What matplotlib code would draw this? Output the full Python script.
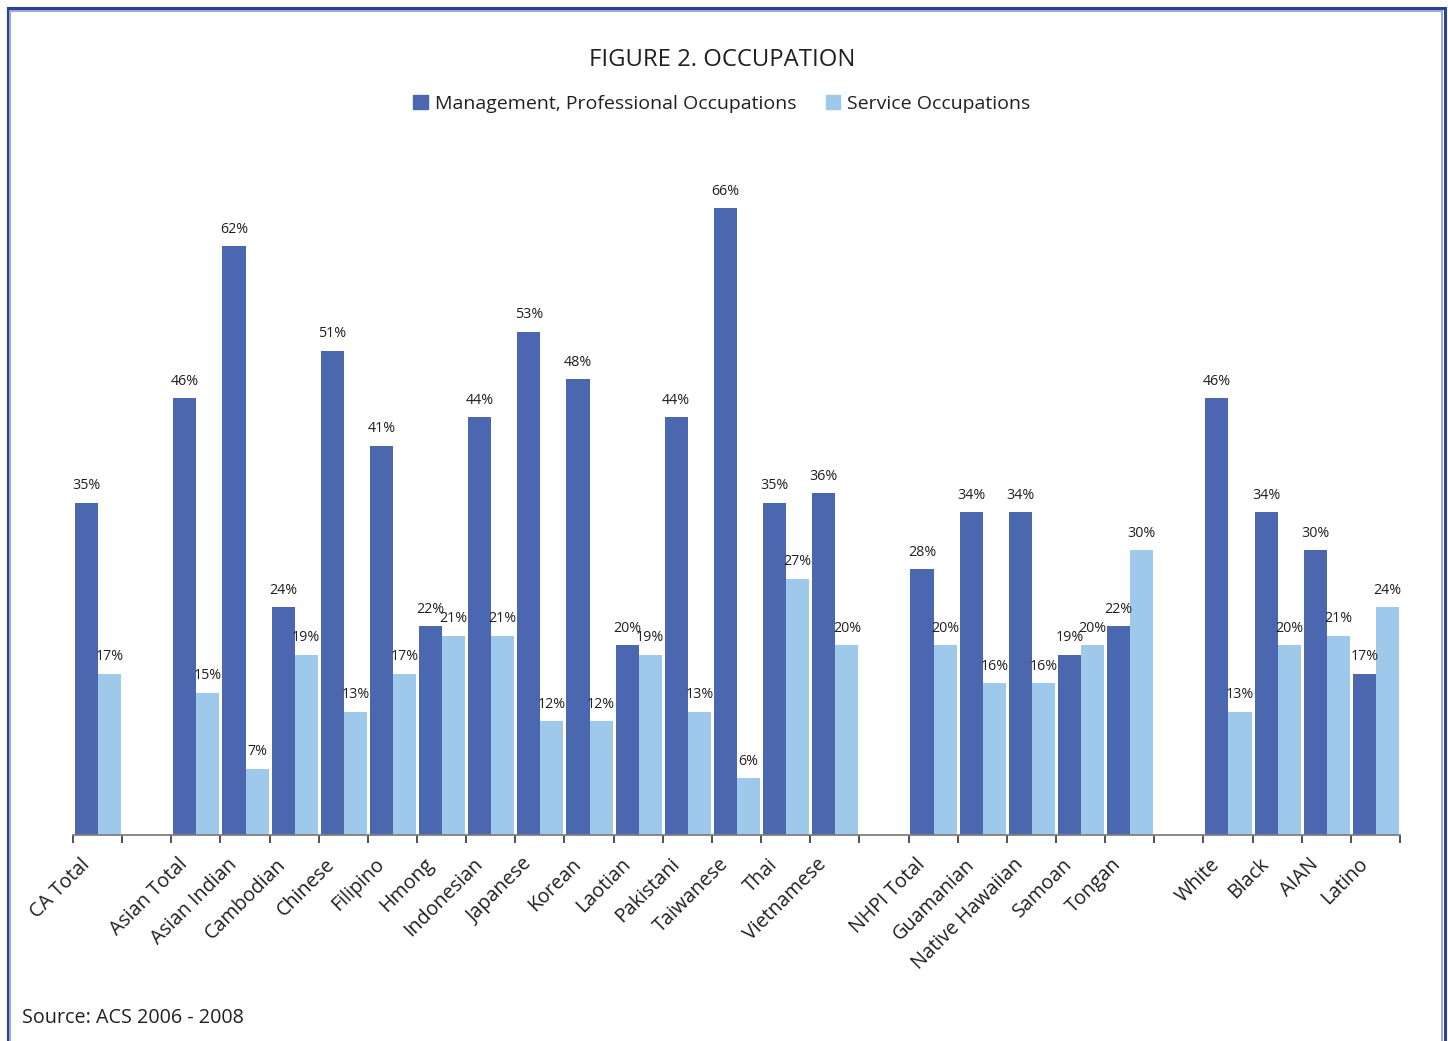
import matplotlib.pyplot as plt
from matplotlib.patches import Rectangle, Patch
from matplotlib.transforms import ScaledTranslation
import numpy as np

plt.rcParams['font.family'] = ['Open Sans', 'DejaVu Sans']

# data (percent)
categories = ["CA Total",
              "Asian Total", "Asian Indian", "Cambodian", "Chinese", "Filipino",
              "Hmong", "Indonesian", "Japanese", "Korean", "Laotian", "Pakistani",
              "Taiwanese", "Thai", "Vietnamese",
              "NHPI Total", "Guamanian", "Native Hawaiian", "Samoan", "Tongan",
              "White", "Black", "AIAN", "Latino"]
management = [35,
              46, 62, 24, 51, 41, 22, 44, 53, 48, 20, 44, 66, 35, 36,
              28, 34, 34, 19, 22,
              46, 34, 30, 17]
service = [17,
           15, 7, 19, 13, 17, 21, 21, 12, 12, 19, 13, 6, 27, 20,
           20, 16, 16, 20, 30,
           13, 20, 21, 24]
# an empty slot is left after these categories
gap_after = ["CA Total", "Vietnamese", "Tongan"]

dark = '#4a67b0'
light = '#9fc9ea'
txt = '#231f20'

# slot positions
pos = []
slot = 0
for c in categories:
    pos.append(slot)
    slot += 1
    if c in gap_after:
        slot += 1
nslots = slot
pos = np.array(pos)

fig = plt.figure(figsize=(14.48, 10.41), dpi=100)
ax = fig.add_axes([73 / 1448, 1 - 835 / 1041, 1327 / 1448, 665 / 1041])

w = 0.47
b1 = ax.bar(pos + 0.04, management, width=w, align='edge', color=dark, linewidth=0)
b2 = ax.bar(pos + 0.04 + w, service, width=w, align='edge', color=light, linewidth=0)

for bars, vals in [(b1, management), (b2, service)]:
    for r, v in zip(bars, vals):
        ax.annotate(f"{v}%", (r.get_x() + r.get_width() / 2, v),
                    xytext=(0, 6.5), textcoords='offset points',
                    ha='center', va='bottom', fontsize=10.3, color=txt)

ax.set_xlim(0, nslots)
ax.set_ylim(0, 70)

for s in ['top', 'right', 'left']:
    ax.spines[s].set_visible(False)
ax.spines['bottom'].set_color('#7f7f7f')
ax.spines['bottom'].set_linewidth(1.3)
ax.set_yticks([])

ax.set_xticks(np.arange(nslots + 1), minor=True)
ax.set_xticks(pos + 0.5)
ax.set_xticklabels(categories, rotation=45, ha='right', rotation_mode='anchor',
                   fontsize=14.2, color=txt)
ax.tick_params(axis='x', which='major', length=0, pad=14)
ax.tick_params(axis='x', which='minor', length=6, width=1.2, color='#333333')
shift = ScaledTranslation(-0.18, 0, fig.dpi_scale_trans)
for lab in ax.get_xticklabels():
    lab.set_transform(lab.get_transform() + shift)

fig.text(0.4985, 1 - 60 / 1041, "FIGURE 2. OCCUPATION", ha='center', va='center',
         fontsize=17.2, color=txt)

handles = [Patch(color=dark, label='Management, Professional Occupations'),
           Patch(color=light, label='Service Occupations')]
fig.legend(handles=handles, loc='center', bbox_to_anchor=(0.4985, 1 - 104 / 1041),
           ncol=2, frameon=False, fontsize=14, handlelength=0.75, handleheight=0.75,
           handletextpad=0.35, columnspacing=1.5, labelcolor=txt)

fig.text(22 / 1448, 1 - 1018 / 1041, "Source: ACS 2006 - 2008", ha='left', va='center',
         fontsize=14.2, color=txt)

# double frame around the figure
fig.add_artist(Rectangle((7.5 / 1448, -0.05), (1444.5 - 7.5) / 1448, 1.05 - 8 / 1041,
                         transform=fig.transFigure, fill=False,
                         edgecolor='#2b4196', linewidth=2.2))
fig.add_artist(Rectangle((10 / 1448, -0.05), (1442 - 10) / 1448, 1.05 - 10.5 / 1041,
                         transform=fig.transFigure, fill=False,
                         edgecolor='#9aa6d6', linewidth=1.4))

fig.savefig('out.png', dpi=100)
